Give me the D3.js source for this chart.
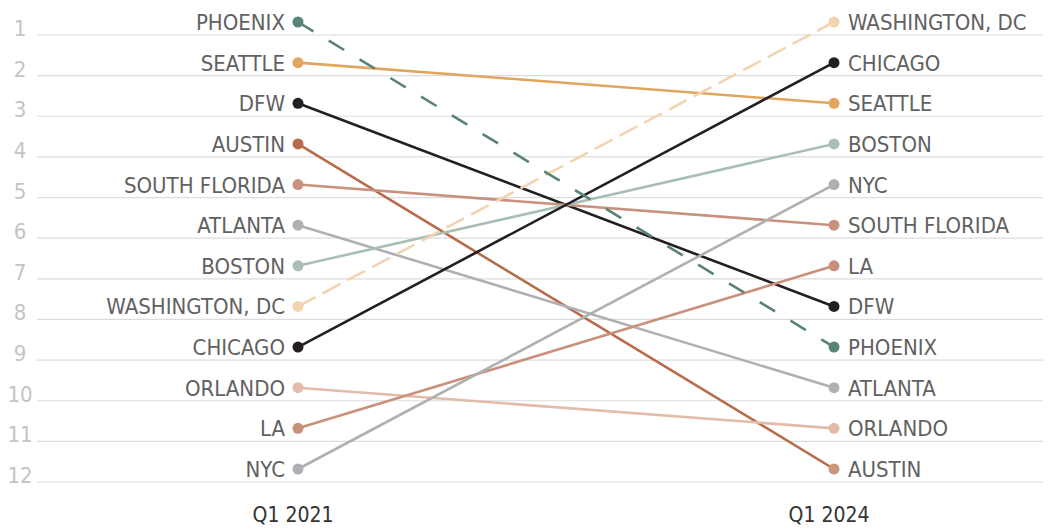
<!DOCTYPE html>
<html>
<head>
<meta charset="utf-8">
<script src="https://cdn.jsdelivr.net/npm/d3@7"></script>
<style>
  body { margin: 0; background: #fff; }
  text { font-family: "Liberation Sans Narrow", "DejaVu Sans Condensed", sans-serif; }
</style>
</head>
<body>
<svg id="grafico"></svg>
<script>
// dados
const cidades = ['PHOENIX', 'SEATTLE', 'DFW', 'AUSTIN', 'SOUTH FLORIDA', 'ATLANTA', 'BOSTON', 'WASHINGTON, DC', 'CHICAGO', 'ORLANDO', 'LA', 'NYC']
const rank2021 = [1, 2, 3, 4, 5, 6, 7, 8, 9, 10, 11, 12]
const rank2024 = [9, 3, 8, 12, 6, 10, 4, 1, 2, 11, 7, 5]
const periodos = ['Q1 2021', 'Q1 2024']
const rotulosRank = d3.range(1, 13)

const cores = ['#5a8472', '#e0a55f', '#231f20', '#b86b4b', '#c8907e', '#b0b0b4', '#a9bfb3', '#f2d4b0', '#231f20', '#e3bba9', '#c9907c', '#b0b0b4']
const coresFim = ['#5a8472', '#e0a55f', '#231f20', '#cc9580', '#c8907e', '#b0b0b4', '#a9bfb3', '#f2d4b0', '#231f20', '#e3bba9', '#c9907c', '#b0b0b4']
const tracejado = {'PHOENIX': '18,18', 'WASHINGTON, DC': '20,8'}

const largura = 1050, altura = 529
const svg = d3.select('#grafico').attr('width', largura).attr('height', altura)

const fnX = d3.scalePoint().domain(periodos).range([298, 834])
const fnY = d3.scaleLinear().domain([1, 12]).range([22, 469])

const dados = cidades.map((c, i) => ({
  nome: c, r1: rank2021[i], r2: rank2024[i], cor: cores[i], corFim: coresFim[i]
}))

// grade
svg.append('g').selectAll('line').data(rotulosRank).join('line')
  .attr('x1', 37).attr('x2', 1043)
  .attr('y1', d => fnY(d) + 13).attr('y2', d => fnY(d) + 13)
  .attr('stroke', '#dcdcdc').attr('stroke-width', 1.2)

svg.append('g').selectAll('text').data(rotulosRank).join('text')
  .attr('x', 20).attr('y', d => fnY(d) + 14)
  .attr('text-anchor', 'middle')
  .attr('font-size', 22).attr('fill', '#c4c4c4')
  .text(d => d)

// linhas (phoenix por cima)
const ordem = dados.slice().sort((a, b) => (a.nome === 'PHOENIX') - (b.nome === 'PHOENIX'))
svg.append('g').selectAll('line').data(ordem).join('line')
  .attr('x1', fnX(periodos[0])).attr('x2', fnX(periodos[1]))
  .attr('y1', d => fnY(d.r1)).attr('y2', d => fnY(d.r2))
  .attr('stroke', d => d.cor).attr('stroke-width', 2.6)
  .attr('stroke-dasharray', d => tracejado[d.nome] || null)

// pontos
svg.append('g').selectAll('circle').data(dados).join('circle')
  .attr('cx', fnX(periodos[0])).attr('cy', d => fnY(d.r1)).attr('r', 5.5)
  .attr('fill', d => d.cor)
svg.append('g').selectAll('circle').data(dados).join('circle')
  .attr('cx', fnX(periodos[1])).attr('cy', d => fnY(d.r2)).attr('r', 5.5)
  .attr('fill', d => d.corFim)

// rotulos
svg.append('g').selectAll('text').data(dados).join('text')
  .attr('x', fnX(periodos[0]) - 13).attr('y', d => fnY(d.r1) + 8)
  .attr('text-anchor', 'end').attr('font-size', 22).attr('fill', '#616161')
  .text(d => d.nome)
svg.append('g').selectAll('text').data(dados).join('text')
  .attr('x', fnX(periodos[1]) + 14).attr('y', d => fnY(d.r2) + 8)
  .attr('font-size', 22).attr('fill', '#616161')
  .text(d => d.nome)

// eixo x
svg.append('g').selectAll('text').data(periodos).join('text')
  .attr('x', d => fnX(d) - 5).attr('y', 522)
  .attr('text-anchor', 'middle').attr('font-size', 21).attr('fill', '#333')
  .text(d => d)
</script>
</body>
</html>
